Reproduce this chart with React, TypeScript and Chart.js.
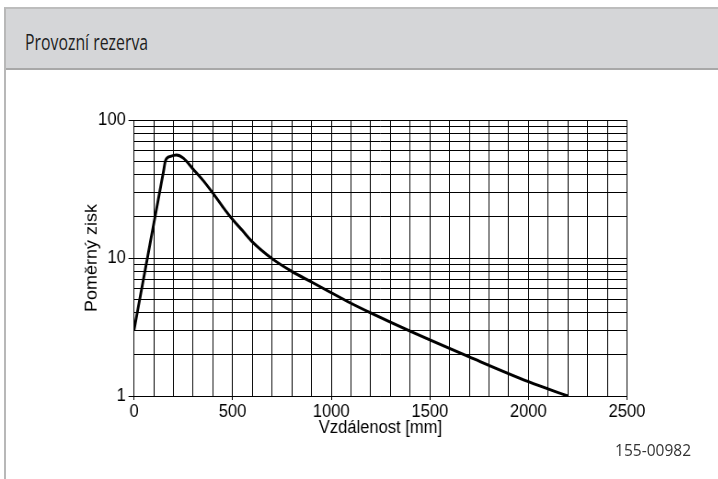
import { useEffect, useRef } from 'react';
import { Chart, registerables } from 'chart.js';

Chart.register(...registerables);

// ---- data ----
const distances = [0, 80, 150, 160, 185, 215, 250, 300, 350, 400, 450, 500, 550, 600, 700, 800, 900, 1000, 1100, 1200, 1400, 1700, 2000, 2200];
const gains = [3, 12.4, 42.8, 51, 54.5, 55.8, 53, 44, 36.5, 29.5, 23.5, 19, 15.8, 13.1, 9.9, 8.0, 6.7, 5.6, 4.7, 4.0, 2.95, 1.92, 1.27, 1.0];

const xGridValues = [0, 100, 200, 300, 400, 500, 600, 700, 800, 900, 1000, 1100, 1200, 1300, 1400, 1500, 1600, 1700, 1800, 1900, 2000, 2100, 2200, 2300, 2400, 2500];
const xLabelValues = [0, 500, 1000, 1500, 2000, 2500];
const yGridValues = [1, 2, 3, 4, 5, 6, 7, 8, 9, 10, 20, 30, 40, 50, 60, 70, 80, 90, 100];
const yLabelValues = [1, 10, 100];

const titleText = 'Provozní rezerva';
const xTitle = 'Vzdálenost [mm]';
const yTitle = 'Poměrný zisk';
const footnote = '155-00982';

// ---- layout ----
const S = 0.92; // horizontal squeeze of the chart image
const CW = 781;
const CH = 479;
const PLOT_L = 134 / S;
const PLOT_R = 627 / S;
const PLOT_T = 120;
const PLOT_B = 396;
const Y_BOX_L = 89;
const X_BOX_B = 438.4;

const axisFont = { family: '"Liberation Sans", Arial, sans-serif', size: 18 };

function ChartCanvas() {
  const ref = useRef<HTMLCanvasElement | null>(null);
  useEffect(() => {
    if (!ref.current) return;
    const chart = new Chart(ref.current, {
      type: 'line',
      data: {
        datasets: [
          {
            data: distances.map((d, i) => ({ x: d, y: gains[i] })),
            borderColor: '#000',
            borderWidth: 2.9,
            pointRadius: 0,
            fill: false,
            cubicInterpolationMode: 'monotone',
          },
        ],
      },
      options: {
        animation: false,
        responsive: false,
        devicePixelRatio: 1,
        layout: {
          padding: { left: Y_BOX_L, top: PLOT_T, right: CW - PLOT_R, bottom: CH - X_BOX_B },
        },
        plugins: { legend: { display: false }, tooltip: { enabled: false }, title: { display: false } },
        scales: {
          x: {
            type: 'linear',
            min: 0,
            max: 2500,
            afterBuildTicks: (scale: any) => {
              scale.ticks = xGridValues.map((v) => ({ value: v }));
            },
            afterFit: (scale: any) => {
              scale.height = X_BOX_B - PLOT_B;
            },
            ticks: {
              autoSkip: false,
              maxRotation: 0,
              padding: 1,
              color: '#000',
              font: axisFont,
              callback: (v: any) => (xLabelValues.includes(Number(v)) ? String(v) : ''),
            },
            grid: {
              color: '#000',
              lineWidth: 1,
              tickLength: 4,
              tickColor: (ctx: any) => (ctx.tick && xLabelValues.includes(ctx.tick.value) ? '#000' : 'rgba(0,0,0,0)'),
            },
            border: { color: '#000', width: 1 },
            title: { display: true, text: xTitle, color: '#000', font: axisFont, padding: 0 },
          },
          y: {
            type: 'logarithmic',
            min: 1,
            max: 100,
            afterBuildTicks: (scale: any) => {
              scale.ticks = yGridValues.map((v) => ({ value: v }));
            },
            afterFit: (scale: any) => {
              scale.width = PLOT_L - Y_BOX_L;
            },
            ticks: {
              autoSkip: false,
              padding: 3,
              color: '#000',
              font: axisFont,
              callback: (v: any) => (yLabelValues.includes(Number(v)) ? String(v) : ''),
            },
            grid: {
              color: '#000',
              lineWidth: 1,
              tickLength: 6,
              tickColor: (ctx: any) => (ctx.tick && yLabelValues.includes(ctx.tick.value) ? '#000' : 'rgba(0,0,0,0)'),
            },
            border: { color: '#000', width: 1 },
            title: { display: true, text: yTitle, color: '#000', font: axisFont, padding: 0 },
          },
        },
      },
    } as any);
    return () => chart.destroy();
  }, []);
  return (
    <canvas
      ref={ref}
      width={CW}
      height={CH}
      style={{
        position: 'absolute',
        left: 0,
        top: 0,
        width: CW,
        height: CH,
        transform: `scaleX(${S})`,
        transformOrigin: '0 0',
      }}
    />
  );
}

export default function App() {
  return (
    <div
      style={{
        position: 'fixed',
        left: 0,
        top: 0,
        width: 718,
        height: 479,
        overflow: 'hidden',
        background: '#fff',
      }}
    >
      <div
        style={{
          position: 'absolute',
          left: 4,
          top: 7,
          width: 760,
          height: 520,
          borderLeft: '2px solid #b8b8b8',
          borderTop: '2px solid #bdbdbd',
          boxSizing: 'border-box',
        }}
      >
        <div
          style={{
            height: 61,
            background: '#d5d6d8',
            borderBottom: '2px solid #a8a8a8',
            boxSizing: 'border-box',
          }}
        />
      </div>
      <div
        style={{
          position: 'absolute',
          left: 25,
          top: 29.5,
          fontFamily: '"Open Sans", sans-serif',
          fontSize: 22,
          lineHeight: '22px',
          color: '#1e1e1e',
          whiteSpace: 'nowrap',
          transform: 'scaleX(0.72)',
          transformOrigin: '0 0',
        }}
      >
        {titleText}
      </div>
      <ChartCanvas />
      <div
        style={{
          position: 'absolute',
          right: 27,
          top: 442.5,
          fontFamily: '"Open Sans", sans-serif',
          fontSize: 15.5,
          lineHeight: '15.5px',
          color: '#333',
          whiteSpace: 'nowrap',
        }}
      >
        {footnote}
      </div>
    </div>
  );
}
